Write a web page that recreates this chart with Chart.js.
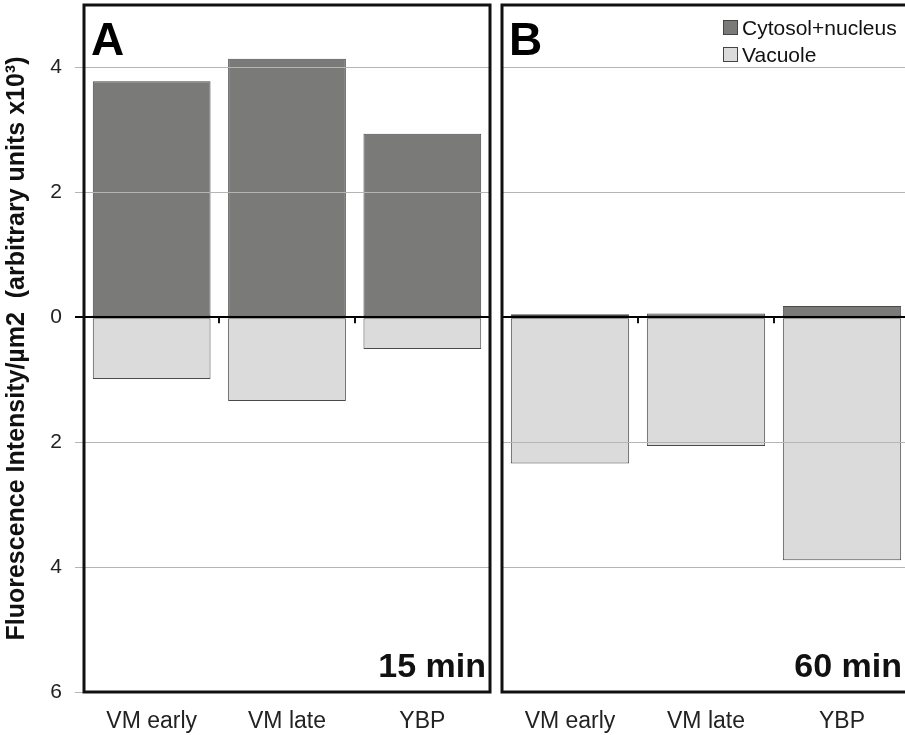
<!DOCTYPE html>
<html lang="en">
<head>
<meta charset="UTF-8">
<title>Fluorescence intensity</title>
<script src="https://cdn.jsdelivr.net/npm/chart.js"></script>
<style>
    body { margin: 0; width: 905px; height: 735px; overflow: hidden; background: #fff; position: relative; font-family: "Liberation Sans", Arial, sans-serif; }
    .box { position: absolute; top: 0; }
    #boxA { left: 0; }
    #boxB { left: 498px; }
    .letra { position: absolute; font-weight: bold; font-size: 46px; line-height: 1; color: #000; }
    .tempo { position: absolute; font-weight: bold; font-size: 34px; line-height: 1; color: #111; }
    .legenda { position: absolute; left: 723px; top: 14px; font-size: 21px; color: #111; }
    .legenda div { height: 27px; display: flex; align-items: center; white-space: nowrap; }
    .legenda span.q { display: inline-block; width: 13px; height: 13px; border: 1px solid #444; margin-right: 4px; }
</style>
</head>
<body>
    <div class="box" id="boxA"><canvas id="graficoA"></canvas></div>
    <div class="box" id="boxB"><canvas id="graficoB"></canvas></div>

    <div class="letra" style="left:91px; top:16px;">A</div>
    <div class="letra" style="left:509px; top:16px;">B</div>
    <div class="tempo" style="right:419px; top:648px;">15 min</div>
    <div class="tempo" style="right:3px; top:648px;">60 min</div>
    <div class="legenda">
        <div><span class="q" style="background:#7a7b78"></span>Cytosol+nucleus</div>
        <div><span class="q" style="background:#dcdbdc"></span>Vacuole</div>
    </div>

<script>
    const categorias = ['VM early', 'VM late', 'YBP'];
    // valores em x10^3, vacuolo negativo (abaixo de zero)
    const citosol15 = [3.78, 4.14, 2.94];
    const vacuolo15 = [-0.99, -1.34, -0.51];
    const citosol60 = [0.05, 0.06, 0.18];
    const vacuolo60 = [-2.34, -2.06, -3.89];
    const ticksY = [-6, -4, -2, 0, 2, 4];

    const corCitosol = '#7a7b78';
    const corVacuolo = '#dcdbdc';

    // moldura grossa + tracinhos no eixo zero
    const moldura = {
        id: 'moldura',
        afterDraw(chart) {
            const ctx = chart.ctx;
            const a = chart.chartArea;
            const x = chart.scales.x;
            const y0 = chart.scales.y.getPixelForValue(0);
            ctx.save();
            ctx.strokeStyle = '#111';
            ctx.lineWidth = 2;
            for (let i = 1; i < categorias.length; i++) {
                const px = Math.round((x.getPixelForValue(i - 1) + x.getPixelForValue(i)) / 2);
                ctx.beginPath();
                ctx.moveTo(px, y0);
                ctx.lineTo(px, y0 + 6);
                ctx.stroke();
            }
            ctx.lineWidth = 3;
            ctx.strokeRect(a.left, a.top, a.right - a.left, a.bottom - a.top);
            ctx.restore();
        }
    };

    function montar(id, citosol, vacuolo, comEixo) {
        return new Chart(document.getElementById(id), {
            type: 'bar',
            data: {
                labels: categorias,
                datasets: [
                    { label: 'Cytosol+nucleus', data: citosol, backgroundColor: corCitosol, borderColor: '#4a4a4a', borderWidth: 1, borderSkipped: false },
                    { label: 'Vacuole', data: vacuolo, backgroundColor: corVacuolo, borderColor: '#4a4a4a', borderWidth: 1, borderSkipped: false }
                ]
            },
            options: {
                responsive: false,
                animation: false,
                layout: { padding: { top: 5, left: comEixo ? 0 : 4, right: comEixo ? 2 : 0, bottom: 0 } },
                categoryPercentage: 1,
                barPercentage: 0.87,
                plugins: { legend: { display: false }, tooltip: { enabled: false } },
                scales: {
                    x: {
                        stacked: true,
                        grid: { display: false },
                        border: { display: false },
                        ticks: { color: '#222', padding: 8, font: { family: '"Liberation Sans", Arial', size: 23 } },
                        afterFit(s) { s.height = 43; s.paddingLeft = 0; s.paddingRight = 0; }
                    },
                    y: {
                        stacked: true,
                        min: -6,
                        max: 5,
                        afterBuildTicks(s) { s.ticks = ticksY.map(v => ({ value: v })); },
                        border: { display: false },
                        grid: {
                            color: c => c.tick && c.tick.value === 0 ? '#000' : '#b5b5b5',
                            lineWidth: c => c.tick && c.tick.value === 0 ? 2 : 1,
                            drawTicks: comEixo,
                            tickLength: 9,
                            z: 1
                        },
                        ticks: {
                            display: comEixo,
                            color: '#222',
                            padding: 13,
                            font: { family: '"Liberation Sans", Arial', size: 21 },
                            callback: v => Math.abs(v)
                        },
                        title: {
                            display: comEixo,
                            text: 'Fluorescence Intensity/µm2  (arbitrary units x10³)',
                            color: '#111',
                            font: { family: '"Liberation Sans", Arial', size: 25, weight: 'bold' },
                            padding: { top: 2, bottom: 0 }
                        },
                        afterFit(s) { s.width = comEixo ? 84 : 0; s.paddingTop = 0; s.paddingBottom = 0; }
                    }
                }
            },
            plugins: [moldura]
        });
    }

    const cA = document.getElementById('graficoA');
    cA.width = 492; cA.height = 735;
    const cB = document.getElementById('graficoB');
    cB.width = 412; cB.height = 735;

    montar('graficoA', citosol15, vacuolo15, true);
    montar('graficoB', citosol60, vacuolo60, false);
</script>
</body>
</html>
